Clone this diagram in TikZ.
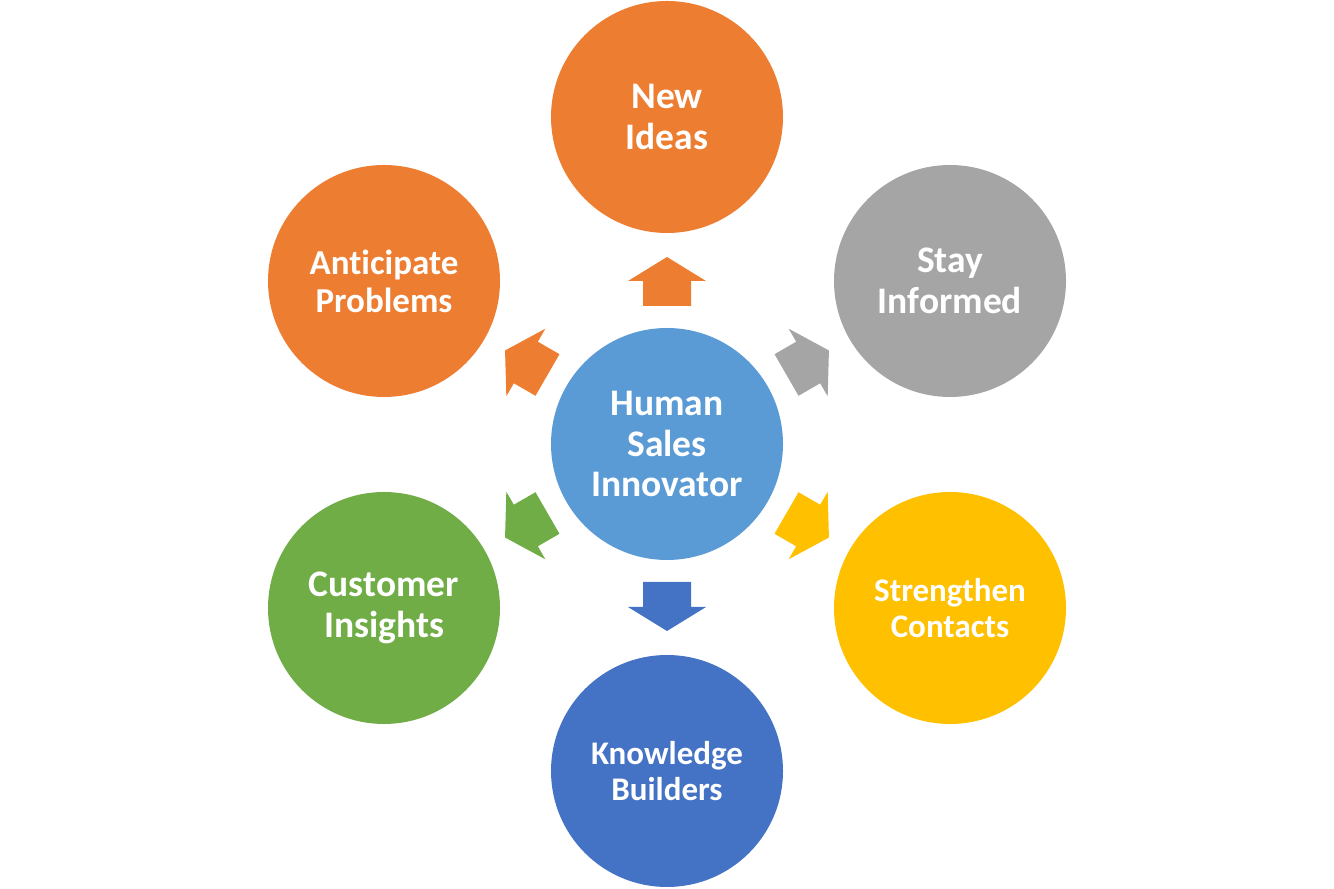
\documentclass[tikz,border=0pt]{standalone}
\usepackage{fontspec}
\setmainfont{Carlito}[Ligatures={NoCommon}]
\definecolor{corange}{HTML}{ED7D31}
\definecolor{cgray}{HTML}{A5A5A5}
\definecolor{cyellow}{HTML}{FFC000}
\definecolor{cblue}{HTML}{4472C4}
\definecolor{cgreen}{HTML}{70AD47}
\definecolor{clight}{HTML}{5B9BD5}
\tikzset{
  bubble/.style={circle, minimum size=232pt, inner sep=0pt, text=white, align=center},
  bigtext/.style={font=\bfseries\fontsize{37.5}{40.5}\selectfont},
  midtext/.style={font=\bfseries\fontsize{35}{38}\selectfont},
  smalltext/.style={font=\bfseries\fontsize{33}{36.5}\selectfont},
}
\newcommand{\blockarrow}[2]{%
  \fill[#2, rotate around={#1:(C.center)}] ($(C.center)+(-24pt,138pt)$) -- ++(48pt,0) -- ++(0,25pt) -- ++(15pt,0) -- ($(C.center)+(0,187pt)$) -- ($(C.center)+(-39pt,163pt)$) -- ++(15pt,0) -- cycle;}
\usetikzlibrary{calc}
\begin{document}
\begin{tikzpicture}[x=1pt,y=1pt]
\useasboundingbox (0,0) rectangle (1334,889);
\node[bubble, fill=clight, bigtext] (C) at (667,445) {Human\\Sales\\Innovator};
\node[bubble, fill=corange, bigtext] (N) at (667,772) {New\\Ideas};
\node[bubble, fill=cgray, bigtext] (S) at (950,608) {Stay\\Informed};
\node[bubble, fill=cyellow, smalltext] (T) at (950,281) {Strengthen\\Contacts};
\node[bubble, fill=cblue, smalltext] (K) at (667,118) {Knowledge\\Builders};
\node[bubble, fill=cgreen, bigtext] (U) at (384,281) {Customer\\Insights};
\node[bubble, fill=corange, midtext] (A) at (384,608) {Anticipate\\Problems};
\blockarrow{0}{corange}
\blockarrow{-60}{cgray}
\blockarrow{-120}{cyellow}
\blockarrow{180}{cblue}
\blockarrow{120}{cgreen}
\blockarrow{60}{corange}
\end{tikzpicture}
\end{document}
